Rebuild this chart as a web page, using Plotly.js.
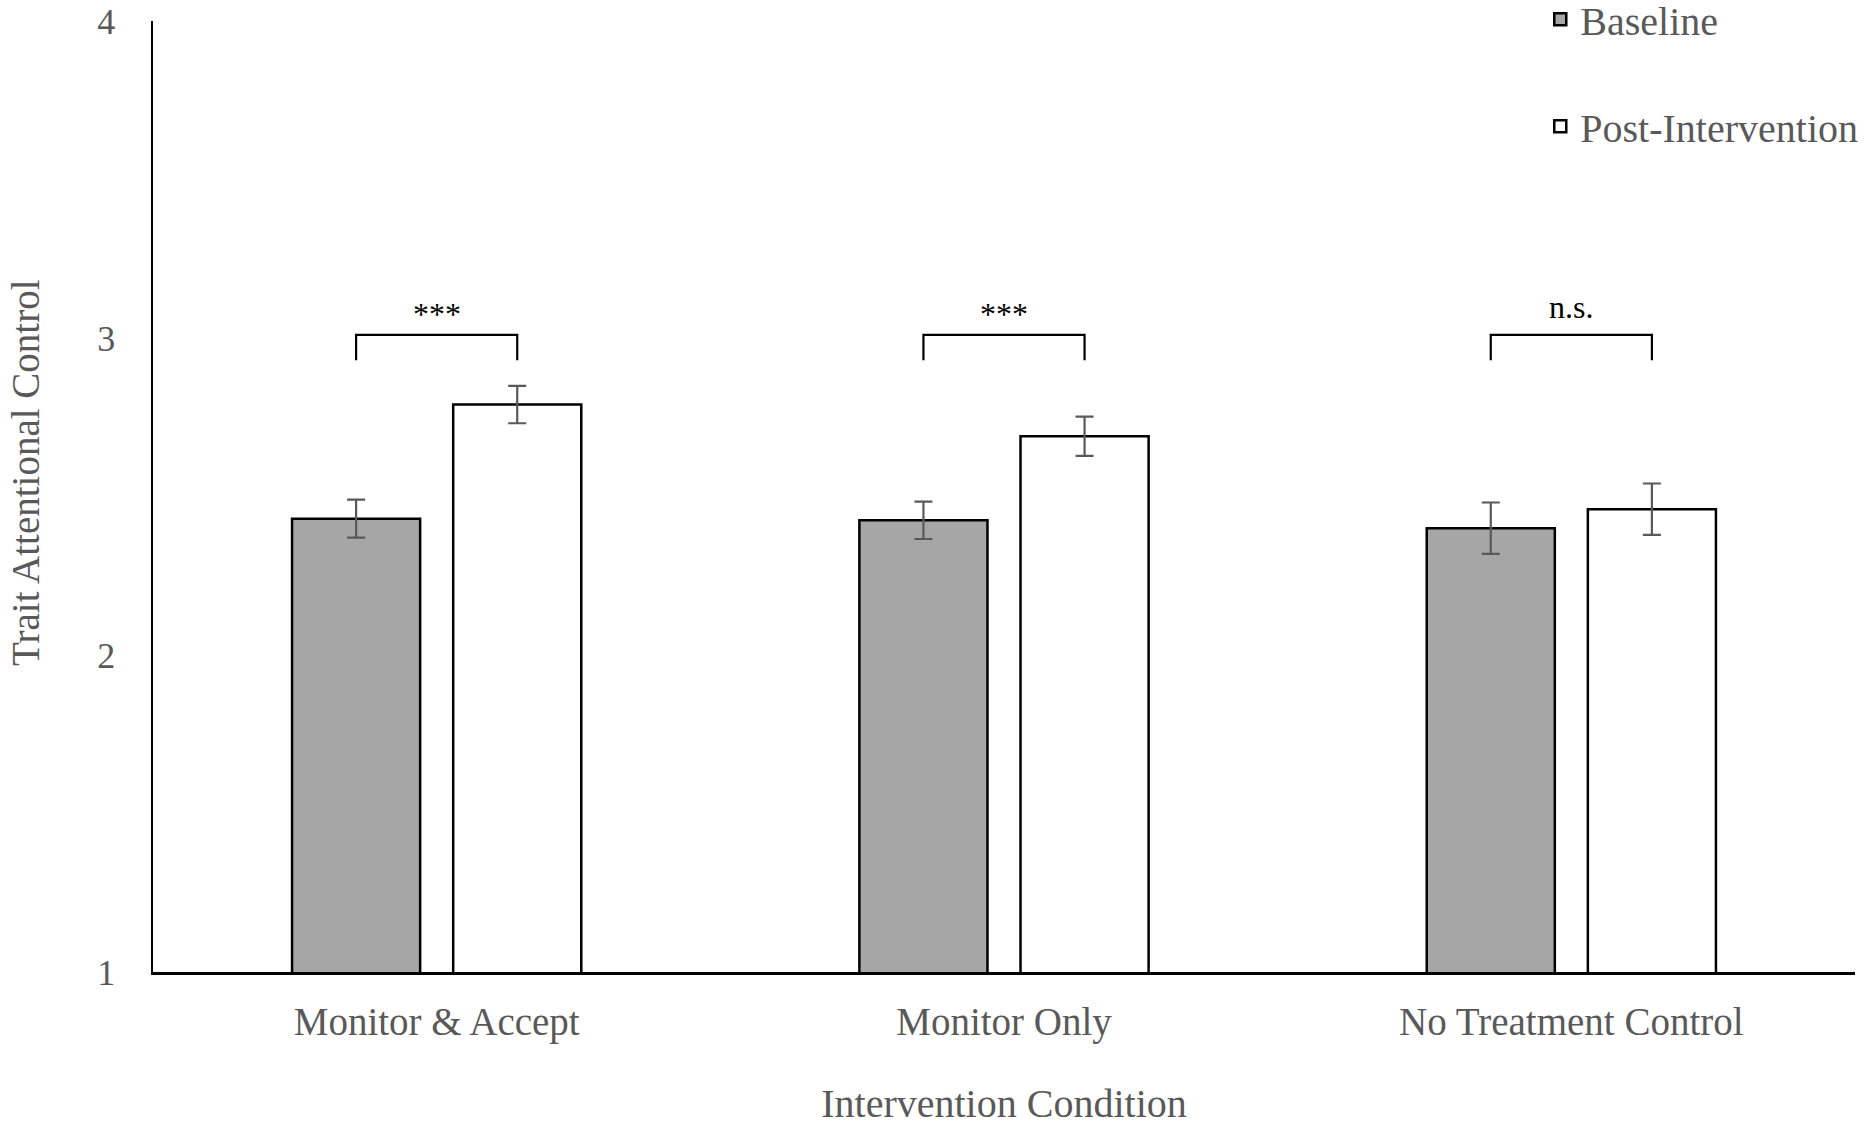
<!DOCTYPE html>
<html>
<head>
<meta charset="utf-8">
<script src="https://cdn.plot.ly/plotly-3.0.1.min.js"></script>
<style>
  html, body { margin: 0; padding: 0; background: #ffffff; }
  #chart { width: 1867px; height: 1126px; }
</style>
</head>
<body>
<div id="chart"></div>
<script>
// ---- data ----
const categories = ["Monitor & Accept", "Monitor Only", "No Treatment Control"];
const seriesNames = ["Baseline", "Post-Intervention"];
const baselineMeans = [2.43, 2.425, 2.40];
const baselineErrors = [0.060, 0.059, 0.081];
const postMeans = [2.79, 2.69, 2.46];
const postErrors = [0.059, 0.062, 0.081];
const significance = ["***", "***", "n.s."];
const yTickValues = [1, 2, 3, 4];
const yTickLabels = ["1", "2", "3", "4"];
const xTitle = "Intervention Condition";
const yTitle = "Trait Attentional Control";

// ---- style ----
const FONT = "Liberation Serif, Times New Roman, serif";
const GREY_TEXT = "#595959";
const BAR_GAP = 0.432;
const BAR_GROUP_GAP = 0.205;
const BRACKET_TOP = 3.01;
const BRACKET_LEG = 2.93;
const LABEL_Y = 3.035;

const traces = [
  {
    type: "bar",
    name: seriesNames[0],
    x: categories,
    y: baselineMeans,
    legendgroup: "a",
    marker: { color: "#a6a6a6", line: { color: "#000000", width: 2.5 } },
    error_y: { type: "data", array: baselineErrors, visible: true, color: "#595959", thickness: 2.2, width: 9 }
  },
  {
    type: "bar",
    name: seriesNames[1],
    x: categories,
    y: postMeans,
    legendgroup: "b",
    marker: { color: "#ffffff", line: { color: "#000000", width: 2.5 } },
    error_y: { type: "data", array: postErrors, visible: true, color: "#595959", thickness: 2.2, width: 9 }
  }
];

// brackets at bar centres derived from bar gap settings
const offset = (1 - BAR_GAP) / 4;
const shapes = [];
const annotations = [];
categories.forEach((c, i) => {
  const x0 = i - offset, x1 = i + offset;
  shapes.push({
    type: "path", xref: "x", yref: "y",
    path: `M ${x0},${BRACKET_LEG} L ${x0},${BRACKET_TOP} L ${x1},${BRACKET_TOP} L ${x1},${BRACKET_LEG}`,
    line: { color: "#000000", width: 2.2 }
  });
  annotations.push({
    x: i, y: LABEL_Y, xref: "x", yref: "y",
    text: significance[i], showarrow: false, yanchor: "bottom",
    yshift: significance[i] === "n.s." ? 0 : -7,
    font: { family: FONT, size: 32, color: "#000000" }
  });
});

// y-axis title placed as a rotated annotation (sits slightly above the axis centre in the reference)
annotations.push({
  xref: "paper", yref: "paper", x: -0.0745, y: 0.525,
  xanchor: "center", yanchor: "middle", textangle: -90,
  text: yTitle, showarrow: false,
  font: { family: FONT, size: 39, color: GREY_TEXT }
});

const layout = {
  width: 1867,
  height: 1126,
  paper_bgcolor: "#ffffff",
  plot_bgcolor: "#ffffff",
  margin: { l: 153, r: 12, t: 21, b: 154, autoexpand: false },
  barmode: "group",
  bargap: BAR_GAP,
  bargroupgap: BAR_GROUP_GAP,
  showlegend: true,
  legend: {
    xref: "container", yref: "paper",
    x: 0.825, y: 1.036, xanchor: "left", yanchor: "top",
    traceorder: "grouped", tracegroupgap: 52,
    font: { family: FONT, size: 40, color: GREY_TEXT },
    bgcolor: "rgba(0,0,0,0)"
  },
  xaxis: {
    type: "category",
    showline: true, linecolor: "#000000", linewidth: 3,
    ticks: "", showgrid: false, zeroline: false,
    tickfont: { family: FONT, size: 39, color: GREY_TEXT },
    ticklabelstandoff: 13,
    title: { text: xTitle, font: { family: FONT, size: 40, color: GREY_TEXT }, standoff: 60 }
  },
  yaxis: {
    range: [1, 4],
    showline: true, linecolor: "#000000", linewidth: 2.5,
    ticks: "", showgrid: false, zeroline: false,
    tickvals: yTickValues, ticktext: yTickLabels,
    tickfont: { family: FONT, size: 36, color: GREY_TEXT },
    ticklabelstandoff: 28,
    ticklabeloverflow: "allow"
  },
  shapes: shapes,
  annotations: annotations
};

Plotly.newPlot("chart", traces, layout, { displayModeBar: false, staticPlot: true });
</script>
</body>
</html>
